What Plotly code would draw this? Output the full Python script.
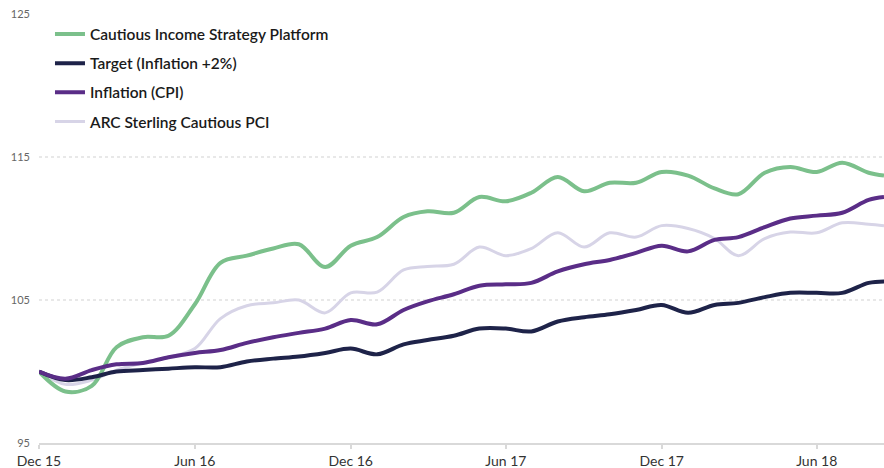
import plotly.graph_objects as go

dates = ["2015-12-01", "2016-01-01", "2016-02-01", "2016-03-01", "2016-04-01", "2016-05-01",
         "2016-06-01", "2016-07-01", "2016-08-01", "2016-09-01", "2016-10-01", "2016-11-01",
         "2016-12-01", "2017-01-01", "2017-02-01", "2017-03-01", "2017-04-01", "2017-05-01",
         "2017-06-01", "2017-07-01", "2017-08-01", "2017-09-01", "2017-10-01", "2017-11-01",
         "2017-12-01", "2018-01-01", "2018-02-01", "2018-03-01", "2018-04-01", "2018-05-01",
         "2018-06-01", "2018-07-01", "2018-08-01", "2018-08-19"]

cautious_income = [100.0, 98.6, 99.0, 101.7, 102.4, 102.5, 104.7, 107.6, 108.1, 108.6, 108.9, 107.3,
                   108.8, 109.4, 110.8, 111.2, 111.1, 112.2, 111.9, 112.5, 113.6, 112.6, 113.2, 113.2,
                   113.95, 113.7, 112.8, 112.4, 113.9, 114.3, 113.95, 114.6, 113.9, 113.7]

target = [100.0, 99.4, 99.6, 100.0, 100.1, 100.2, 100.3, 100.3, 100.7, 100.9, 101.05, 101.3,
          101.6, 101.2, 101.9, 102.2, 102.5, 103.0, 103.0, 102.8, 103.5, 103.8, 104.0, 104.3,
          104.65, 104.1, 104.65, 104.8, 105.2, 105.5, 105.5, 105.5, 106.2, 106.3]

inflation = [100.0, 99.5, 100.1, 100.5, 100.6, 101.0, 101.3, 101.5, 102.0, 102.4, 102.7, 103.0,
             103.6, 103.3, 104.3, 104.9, 105.4, 106.0, 106.1, 106.2, 107.0, 107.5, 107.8, 108.3,
             108.8, 108.4, 109.2, 109.4, 110.1, 110.7, 110.9, 111.1, 112.0, 112.2]

arc_cautious = [100.0, 99.1, 99.4, 100.1, 100.6, 101.0, 101.6, 103.7, 104.6, 104.8, 105.0, 104.1,
                105.5, 105.55, 107.1, 107.35, 107.5, 108.7, 108.1, 108.6, 109.7, 108.7, 109.7, 109.4,
                110.2, 110.0, 109.3, 108.1, 109.3, 109.75, 109.7, 110.4, 110.3, 110.2]

tick_dates = ["2015-12-01", "2016-06-01", "2016-12-01", "2017-06-01", "2017-12-01", "2018-06-01"]
tick_labels = ["Dec 15", "Jun 16", "Dec 16", "Jun 17", "Dec 17", "Jun 18"]
y_ticks = [95, 105, 115, 125]

series = [
    ("ARC Sterling Cautious PCI", arc_cautious, "#d7d4e7", 3, 4),
    ("Cautious Income Strategy Platform", cautious_income, "#7bc08b", 4, 1),
    ("Target (Inflation +2%)", target, "#1e2349", 4, 2),
    ("Inflation (CPI)", inflation, "#5a2d87", 4, 3),
]

fig = go.Figure()
for name, vals, color, width, rank in series:
    fig.add_trace(go.Scatter(
        x=dates, y=vals, name=name, mode="lines",
        line=dict(color=color, width=width, shape="spline", smoothing=1.0),
        legendrank=rank, legendgroup=name,
    ))

fig.update_layout(
    width=884, height=468,
    margin=dict(l=39, r=0, t=14, b=25),
    paper_bgcolor="white", plot_bgcolor="white",
    font=dict(family="Lato, sans-serif", color="#222"),
    showlegend=True,
    legend=dict(
        x=0.013, y=0.992, xanchor="left", yanchor="top",
        bgcolor="rgba(0,0,0,0)",
        font=dict(size=15.5, color="#1a1a1a", family="Lato, sans-serif", weight=600),
        tracegroupgap=6, itemwidth=30,
    ),
    xaxis=dict(
        type="date",
        range=["2015-12-01", "2018-08-19"],
        tickvals=tick_dates, ticktext=tick_labels,
        showgrid=False, zeroline=False,
        showline=True, linecolor="#d9d9d9", linewidth=2,
        ticks="outside", ticklen=4, tickcolor="#d9d9d9", tickwidth=2,
        tickfont=dict(size=14, color="#333"),
    ),
    yaxis=dict(
        range=[95, 125], tickvals=y_ticks,
        showgrid=True, gridcolor="#e8e8e8", griddash="dot", gridwidth=1.5,
        zeroline=False, showline=False,
        tickfont=dict(size=11, color="#666"),
        ticklabelstandoff=8,
    ),
)

fig.write_html("out.html", config={"displayModeBar": False},
               post_script="document.body.style.margin='0';document.body.style.overflow='hidden';")
